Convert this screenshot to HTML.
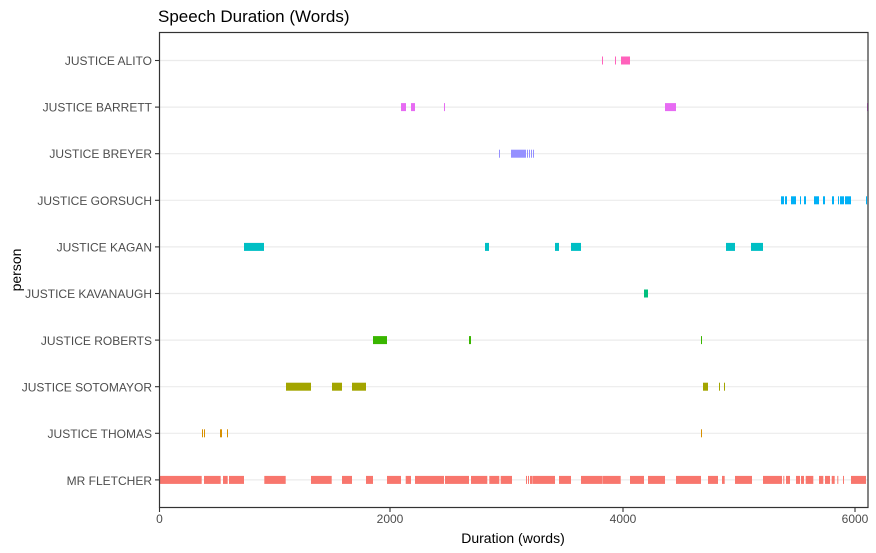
<!DOCTYPE html>
<html><head><meta charset="utf-8"><style>
html,body{margin:0;padding:0;background:#fff;}
svg{display:block;font-family:"Liberation Sans",Arial,sans-serif;}
</style></head><body>
<svg id="s" width="876" height="553" viewBox="0 0 876 553" xmlns="http://www.w3.org/2000/svg">
<rect width="876" height="553" fill="#fff"/>
<text x="158" y="22" font-size="17" fill="#000">Speech Duration (Words)</text>
<g id="grid" stroke="#ebebeb" stroke-width="1.2"></g>
<g id="bars"></g>
<rect x="159.5" y="32.5" width="708.5" height="475" fill="none" stroke="#333" stroke-width="1.2"/>
<g id="ticks" stroke="#333" stroke-width="1.1"></g>
<g font-size="12" fill="#4d4d4d" text-anchor="end">
<text x="152" y="65">JUSTICE ALITO</text>
<text x="152" y="111.5">JUSTICE BARRETT</text>
<text x="152" y="158">JUSTICE BREYER</text>
<text x="152" y="205">JUSTICE GORSUCH</text>
<text x="152" y="251.5">JUSTICE KAGAN</text>
<text x="152" y="298">JUSTICE KAVANAUGH</text>
<text x="152" y="345">JUSTICE ROBERTS</text>
<text x="152" y="391.5">JUSTICE SOTOMAYOR</text>
<text x="152" y="438">JUSTICE THOMAS</text>
<text x="152" y="485">MR FLETCHER</text>
</g>
<g font-size="12" fill="#4d4d4d" text-anchor="middle">
<text x="159.5" y="523">0</text>
<text x="390" y="523">2000</text>
<text x="623" y="523">4000</text>
<text x="855" y="523">6000</text>
</g>
<text x="513" y="543" font-size="14" text-anchor="middle" fill="#000">Duration (words)</text>
<text transform="translate(21,270) rotate(-90)" font-size="14" text-anchor="middle" fill="#000">person</text>
</svg>
<script>
var NS="http://www.w3.org/2000/svg";
var rows=[
["#FF62BC",[[602,603],[615,616],[621,630]]],
["#E76BF3",[[401,406],[411,415],[444,445],[665,676],[867,868]]],
["#9590FF",[[499,500],[511,526],[527,528],[529,530],[531,532],[533,534]]],
["#00B0F6",[[781,784],[785,787],[791,796],[800,801],[804,806],[814,819],[823,825],[832,834],[838,839],[840,844],[845,851],[866,867]]],
["#00BFC4",[[244,264],[485,489],[555,559],[571,581],[726,735],[751,763]]],
["#00BF7D",[[644,648]]],
["#39B600",[[373,387],[469,471],[701,702]]],
["#A3A500",[[286,311],[332,342],[352,366],[703,708],[719,720],[724,725]]],
["#D89000",[[202,203],[204,205],[220,222],[227,228],[701,702]]],
["#F8766D",[[160,201.7],[204,220.7],[223,227.7],[229,244],[264.3,285.7],[311,331.7],[342,352],[366,373],[387,401],[405.7,411],[415,444],[445,469],[471,487.3],[489.3,499.3],[500.7,512],[526,527],[528,529],[530,532.7],[533,555],[559,571],[581,602.7],[603,620.7],[630,644],[648,665],[676,701],[708,718],[722,724.7],[735,752],[763,782],[783.3,784.3],[786,790],[796,800],[801,804],[805.7,813.3],[819,823.3],[825,830],[831.7,834.7],[837.3,838.3],[843,844],[851,866]]]
];
var g=document.getElementById("grid"),b=document.getElementById("bars"),t=document.getElementById("ticks");
rows.forEach(function(r,i){
 var y=60.5+i*46.6;
 var l=document.createElementNS(NS,"line");l.setAttribute("x1",159.5);l.setAttribute("x2",868);l.setAttribute("y1",y);l.setAttribute("y2",y);g.appendChild(l);
 var tk=document.createElementNS(NS,"line");tk.setAttribute("x1",155);tk.setAttribute("x2",159.5);tk.setAttribute("y1",y);tk.setAttribute("y2",y);t.appendChild(tk);
 r[1].forEach(function(s){
  var e=document.createElementNS(NS,"rect");e.setAttribute("x",s[0]);e.setAttribute("y",y-4);e.setAttribute("width",Math.max(1,s[1]-s[0]));e.setAttribute("height",8);e.setAttribute("fill",r[0]);b.appendChild(e);
 });
});
[159.5,390,623,855].forEach(function(x){
 var tk=document.createElementNS(NS,"line");tk.setAttribute("x1",x);tk.setAttribute("x2",x);tk.setAttribute("y1",507.5);tk.setAttribute("y2",512);t.appendChild(tk);
});
</script>
</body></html>
